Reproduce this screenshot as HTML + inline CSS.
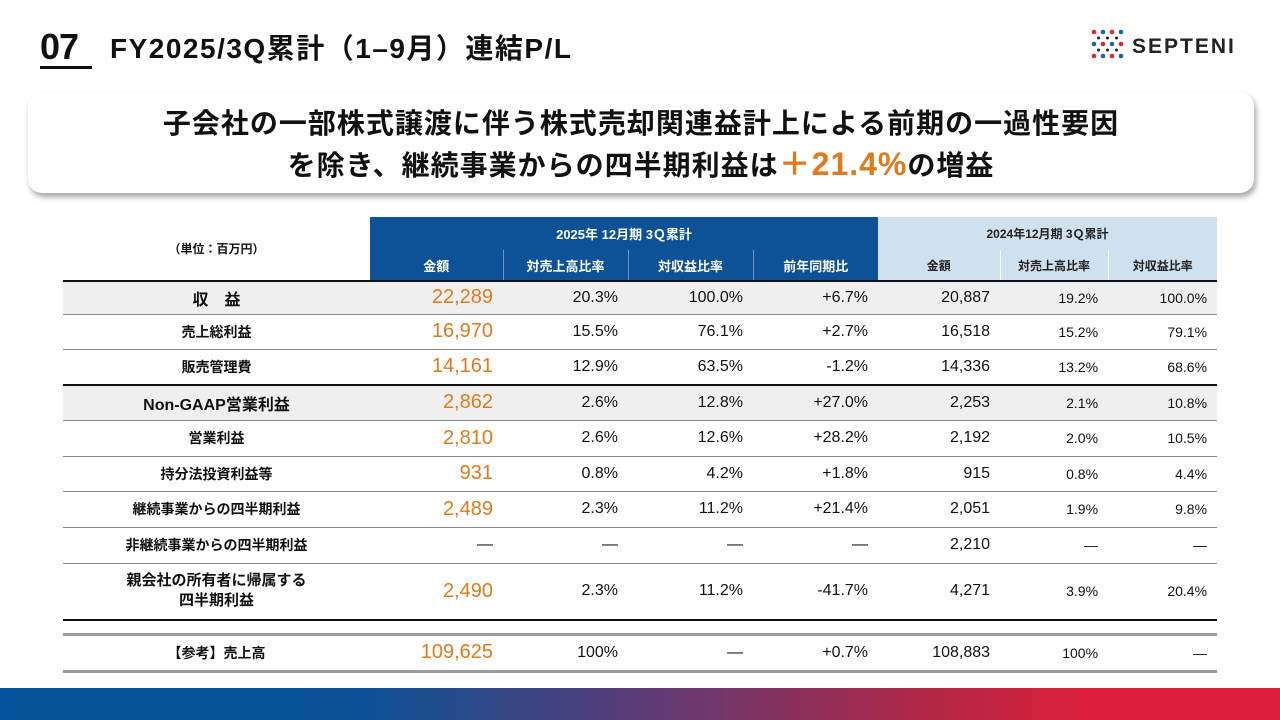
<!DOCTYPE html>
<html><head><meta charset="utf-8">
<style>
*{margin:0;padding:0;box-sizing:border-box}
body{width:1280px;height:720px;background:#fff;position:relative;overflow:hidden;font-family:"Liberation Sans","Noto Sans CJK JP",sans-serif;color:#111}
.num{position:absolute;left:40px;top:28px;font-size:36px;font-weight:bold;border-bottom:3px solid #111;line-height:38px;width:52px;letter-spacing:-1px}
.title{position:absolute;left:110px;top:32px;font-size:28px;font-weight:bold;line-height:34px;letter-spacing:1.5px}
.logo{position:absolute;left:1090px;top:28px;width:150px;height:34px}
.banner{position:absolute;left:28px;top:92px;width:1226px;height:101px;border-radius:14px;background:#fff;box-shadow:2px 4px 6px rgba(0,0,0,.35);text-align:center;font-weight:bold;font-size:28px;line-height:40px;padding-top:12px;color:#111;letter-spacing:1px}
.banner .o{color:#e07a1d;font-size:32px}
table{position:absolute;left:63px;top:217px;border-collapse:collapse;width:1154px;table-layout:fixed}
td{font-size:16px;text-align:right;padding-right:10px;white-space:nowrap}
td.l{text-align:center;padding-right:0;font-weight:bold;font-size:14px}
td.a{color:#e07a1d;font-size:20px}
.h1{background:#0d5296;color:#fff;text-align:center;padding:0;font-size:13px;font-weight:bold;height:33px}
.h2{background:#0d5296;color:#fff;text-align:center;padding:0;font-size:13px;font-weight:bold;height:31px;border-left:1px solid #6d95c2}
.g1{background:#cfe0ef;color:#222;text-align:center;padding:0;font-size:12px;font-weight:bold}
.g2{background:#cfe0ef;color:#222;text-align:center;padding:0;font-size:12px;font-weight:bold;border-left:1px solid #fff}
tr.r td{border-bottom:1px solid #8a8a8a}
tr.gray td{background:#efefef}
tr.tb td{border-bottom:2px solid #111}
td.s{font-size:14px}
.bar{position:absolute;left:0;top:688px;width:1280px;height:32px;background:linear-gradient(90deg,#05539a 0%,#0a5196 28%,#5b3c77 50%,#b12747 72%,#dc1f3a 85%,#dc1f3a 100%)}
</style></head><body>
<div class="num">07</div>
<div class="title">FY2025/3Q累計（1–9月）連結P/L</div>
<svg class="logo" viewBox="0 0 150 34">
<g>
<circle cx="4" cy="4" r="2.3" fill="#d7263d"/><circle cx="13" cy="4" r="2.3" fill="#1f5fae"/><circle cx="22" cy="4" r="2.3" fill="#d7263d"/><circle cx="31" cy="4" r="2.3" fill="#1f5fae"/>
<circle cx="8.5" cy="10" r="1.5" fill="#222"/><circle cx="17.5" cy="10" r="1.5" fill="#222"/><circle cx="26.5" cy="10" r="1.5" fill="#222"/>
<circle cx="4" cy="16" r="2.3" fill="#1f5fae"/><circle cx="13" cy="16" r="2.3" fill="#d7263d"/><circle cx="22" cy="16" r="2.3" fill="#1f5fae"/><circle cx="31" cy="16" r="2.3" fill="#d7263d"/>
<circle cx="8.5" cy="22" r="1.5" fill="#222"/><circle cx="17.5" cy="22" r="1.5" fill="#222"/><circle cx="26.5" cy="22" r="1.5" fill="#222"/>
<circle cx="4" cy="28" r="2.3" fill="#d7263d"/><circle cx="13" cy="28" r="2.3" fill="#1f5fae"/><circle cx="22" cy="28" r="2.3" fill="#d7263d"/><circle cx="31" cy="28" r="2.3" fill="#1f5fae"/>
</g>
<text x="42" y="25" font-size="21" font-weight="bold" font-family="Liberation Sans" fill="#222" letter-spacing="2">SEPTENI</text>
</svg>
<div class="banner">子会社の一部株式譲渡に伴う株式売却関連益計上による前期の一過性要因<br>を除き、継続事業からの四半期利益は<span class="o">＋21.4%</span>の増益</div>
<table>
<colgroup><col style="width:307px"><col style="width:133px"><col style="width:125px"><col style="width:125px"><col style="width:125px"><col style="width:122px"><col style="width:108px"><col style="width:109px"></colgroup>
<tr><td class="l" rowspan="2" style="font-size:12px;border-bottom:2px solid #111">（単位：百万円）</td><td class="h1" colspan="4">2025年 12月期 3Ｑ累計</td><td class="g1" colspan="3" style="height:33px">2024年12月期 3Ｑ累計</td></tr>
<tr class="tb"><td class="h2" style="border-left:none">金額</td><td class="h2">対売上高比率</td><td class="h2">対収益比率</td><td class="h2">前年同期比</td><td class="g2" style="border-left:none">金額</td><td class="g2">対売上高比率</td><td class="g2">対収益比率</td></tr>
<tr class="r gray" style="height:33px"><td class="l" style="font-size:16px">収　益</td><td class="a">22,289</td><td>20.3%</td><td>100.0%</td><td>+6.7%</td><td>20,887</td><td class="s">19.2%</td><td class="s">100.0%</td></tr>
<tr class="r" style="height:35px"><td class="l">売上総利益</td><td class="a">16,970</td><td>15.5%</td><td>76.1%</td><td>+2.7%</td><td>16,518</td><td class="s">15.2%</td><td class="s">79.1%</td></tr>
<tr class="tb" style="height:36px"><td class="l">販売管理費</td><td class="a">14,161</td><td>12.9%</td><td>63.5%</td><td>-1.2%</td><td>14,336</td><td class="s">13.2%</td><td class="s">68.6%</td></tr>
<tr class="r gray" style="height:35px"><td class="l" style="font-size:16px">Non-GAAP営業利益</td><td class="a">2,862</td><td>2.6%</td><td>12.8%</td><td>+27.0%</td><td>2,253</td><td class="s">2.1%</td><td class="s">10.8%</td></tr>
<tr class="r" style="height:36px"><td class="l">営業利益</td><td class="a">2,810</td><td>2.6%</td><td>12.6%</td><td>+28.2%</td><td>2,192</td><td class="s">2.0%</td><td class="s">10.5%</td></tr>
<tr class="r" style="height:35px"><td class="l">持分法投資利益等</td><td class="a">931</td><td>0.8%</td><td>4.2%</td><td>+1.8%</td><td>915</td><td class="s">0.8%</td><td class="s">4.4%</td></tr>
<tr class="r" style="height:36px"><td class="l">継続事業からの四半期利益</td><td class="a">2,489</td><td>2.3%</td><td>11.2%</td><td>+21.4%</td><td>2,051</td><td class="s">1.9%</td><td class="s">9.8%</td></tr>
<tr class="r" style="height:36px"><td class="l">非継続事業からの四半期利益</td><td>—</td><td>—</td><td>—</td><td>—</td><td>2,210</td><td class="s">—</td><td class="s">—</td></tr>
<tr class="tb" style="height:57px"><td class="l" style="font-size:15px;line-height:20px">親会社の所有者に帰属する<br>四半期利益</td><td class="a">2,490</td><td>2.3%</td><td>11.2%</td><td>-41.7%</td><td>4,271</td><td class="s">3.9%</td><td class="s">20.4%</td></tr>
<tr style="height:14px"><td colspan="8" style="border-bottom:3px solid #9a9a9a"></td></tr>
<tr style="height:37px"><td class="l" style="border-bottom:3px solid #9a9a9a">【参考】売上高</td><td class="a" style="border-bottom:3px solid #9a9a9a">109,625</td><td style="border-bottom:3px solid #9a9a9a">100%</td><td style="border-bottom:3px solid #9a9a9a">—</td><td style="border-bottom:3px solid #9a9a9a">+0.7%</td><td style="border-bottom:3px solid #9a9a9a">108,883</td><td class="s" style="border-bottom:3px solid #9a9a9a">100%</td><td class="s" style="border-bottom:3px solid #9a9a9a">—</td></tr>
</table>
<div class="bar"></div>
</body></html>
